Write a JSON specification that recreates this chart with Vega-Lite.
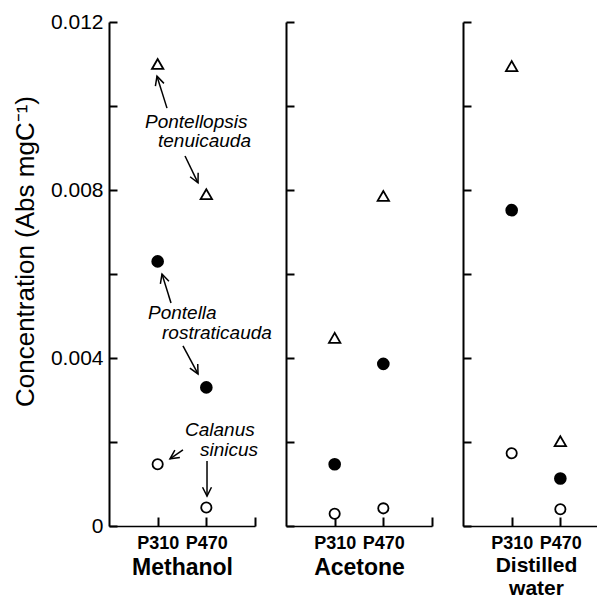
{
  "$schema": "https://vega.github.io/schema/vega-lite/v6.json",
  "padding": {"left": 12, "top": 11, "right": 0, "bottom": 0},
  "bounds": "flush",
  "spacing": 31,
  "config": {
    "view": {"stroke": null},
    "font": "Liberation Sans",
    "axis": {"domainColor": "black", "tickColor": "black", "labelColor": "black", "titleColor": "black", "grid": false, "domainWidth": 2, "tickWidth": 2, "labelFont": "Liberation Sans", "titleFont": "Liberation Sans"}
  },
  "datasets": {
    "pts": [
      {"solvent": "Methanol", "pigment": "P310", "species": "Pontellopsis tenuicauda", "value": 0.0110},
      {"solvent": "Methanol", "pigment": "P470", "species": "Pontellopsis tenuicauda", "value": 0.0079},
      {"solvent": "Methanol", "pigment": "P310", "species": "Pontella rostraticauda", "value": 0.0063},
      {"solvent": "Methanol", "pigment": "P470", "species": "Pontella rostraticauda", "value": 0.0033},
      {"solvent": "Methanol", "pigment": "P310", "species": "Calanus sinicus", "value": 0.00147},
      {"solvent": "Methanol", "pigment": "P470", "species": "Calanus sinicus", "value": 0.00044},
      {"solvent": "Acetone", "pigment": "P310", "species": "Pontellopsis tenuicauda", "value": 0.00448},
      {"solvent": "Acetone", "pigment": "P470", "species": "Pontellopsis tenuicauda", "value": 0.00786},
      {"solvent": "Acetone", "pigment": "P310", "species": "Pontella rostraticauda", "value": 0.00147},
      {"solvent": "Acetone", "pigment": "P470", "species": "Pontella rostraticauda", "value": 0.00386},
      {"solvent": "Acetone", "pigment": "P310", "species": "Calanus sinicus", "value": 0.00029},
      {"solvent": "Acetone", "pigment": "P470", "species": "Calanus sinicus", "value": 0.00042},
      {"solvent": "Distilled water", "pigment": "P310", "species": "Pontellopsis tenuicauda", "value": 0.01095},
      {"solvent": "Distilled water", "pigment": "P470", "species": "Pontellopsis tenuicauda", "value": 0.00202},
      {"solvent": "Distilled water", "pigment": "P310", "species": "Pontella rostraticauda", "value": 0.00752},
      {"solvent": "Distilled water", "pigment": "P470", "species": "Pontella rostraticauda", "value": 0.00113},
      {"solvent": "Distilled water", "pigment": "P310", "species": "Calanus sinicus", "value": 0.00173},
      {"solvent": "Distilled water", "pigment": "P470", "species": "Calanus sinicus", "value": 0.0004}
    ],
    "arrows": [
      {"x1": 1.192, "y1": 0.00995, "x2": 0.986, "y2": 0.01071},
      {"x1": 1.562, "y1": 0.00881, "x2": 1.829, "y2": 0.00817},
      {"x1": 1.274, "y1": 0.00531, "x2": 1.089, "y2": 0.00600},
      {"x1": 1.520, "y1": 0.00429, "x2": 1.829, "y2": 0.00362},
      {"x1": 1.520, "y1": 0.00181, "x2": 1.253, "y2": 0.00160},
      {"x1": 2.014, "y1": 0.00155, "x2": 2.014, "y2": 0.00071}
    ],
    "notes": [
      {"label": "Pontellopsis", "x": 0.740, "y": 0.00962},
      {"label": "tenuicauda", "x": 1.007, "y": 0.00917},
      {"label": "Pontella", "x": 0.801, "y": 0.00507},
      {"label": "rostraticauda", "x": 1.089, "y": 0.00460},
      {"label": "Calanus", "x": 1.562, "y": 0.00228},
      {"label": "sinicus", "x": 1.870, "y": 0.00182}
    ]
  },
  "hconcat": [
    {
      "width": 146,
      "height": 504,
      "layer": [
        {
          "data": {"name": "pts"},
          "transform": [
            {"filter": "datum.solvent === 'Methanol'"},
            {"calculate": "datum.pigment === 'P310' ? 1 : 2", "as": "slot"}
          ],
          "mark": {"type": "point", "strokeWidth": 1.8, "stroke": "black", "opacity": 1},
          "encoding": {
            "x": {"field": "slot", "type": "quantitative", "scale": {"domain": [0, 3], "nice": false, "zero": false},
              "axis": {"values": [1, 2, 3], "tickSize": -9, "labelExpr": "datum.value == 1 ? 'P310' : datum.value == 2 ? 'P470' : ''", "labelFontSize": 18, "labelFontWeight": "bold", "labelPadding": 17, "labelFlush": false, "labelOverlap": false, "title": "Methanol", "titleFontSize": 23, "titleFontWeight": "bold", "titlePadding": 4, "domainWidth": 1.5}},
            "y": {"field": "value", "type": "quantitative", "scale": {"domain": [0, 0.012], "nice": false},
              "axis": {"values": [0, 0.002, 0.004, 0.006, 0.008, 0.01, 0.012], "tickSize": -8, "labelExpr": "round(datum.value*1000) % 4 == 0 ? (datum.value == 0 ? '0' : format(datum.value, '.3f')) : ''", "labelFontSize": 21, "labelPadding": 14, "labelFlush": false, "labelOverlap": false, "title": "Concentration (Abs mgC⁻¹)", "titleFontSize": 26, "titleFontWeight": "normal", "titlePadding": 12, "titleY": 229}},
            "shape": {"field": "species", "type": "nominal", "scale": {"domain": ["Pontellopsis tenuicauda", "Pontella rostraticauda", "Calanus sinicus"], "range": ["triangle-up", "circle", "circle"]}, "legend": null},
            "fill": {"field": "species", "type": "nominal", "scale": {"domain": ["Pontellopsis tenuicauda", "Pontella rostraticauda", "Calanus sinicus"], "range": ["white", "black", "white"]}, "legend": null},
            "size": {"field": "species", "type": "nominal", "scale": {"domain": ["Pontellopsis tenuicauda", "Pontella rostraticauda", "Calanus sinicus"], "range": [130, 105, 105]}, "legend": null}
          }
        },
        {
          "data": {"name": "arrows"},
          "mark": {"type": "rule", "strokeWidth": 1.5, "color": "black"},
          "encoding": {
            "x": {"field": "x1", "type": "quantitative", "scale": {"domain": [0, 3], "nice": false, "zero": false},
              "axis": {"values": [1, 2, 3], "tickSize": -9, "labelExpr": "datum.value == 1 ? 'P310' : datum.value == 2 ? 'P470' : ''", "labelFontSize": 18, "labelFontWeight": "bold", "labelPadding": 17, "labelFlush": false, "labelOverlap": false, "title": "Methanol", "titleFontSize": 23, "titleFontWeight": "bold", "titlePadding": 4, "domainWidth": 1.5}},
            "y": {"field": "y1", "type": "quantitative", "scale": {"domain": [0, 0.012], "nice": false},
              "axis": {"values": [0, 0.002, 0.004, 0.006, 0.008, 0.01, 0.012], "tickSize": -8, "labelExpr": "round(datum.value*1000) % 4 == 0 ? (datum.value == 0 ? '0' : format(datum.value, '.3f')) : ''", "labelFontSize": 21, "labelPadding": 14, "labelFlush": false, "labelOverlap": false, "title": "Concentration (Abs mgC⁻¹)", "titleFontSize": 26, "titleFontWeight": "normal", "titlePadding": 12, "titleY": 229}},
            "x2": {"field": "x2"},
            "y2": {"field": "y2"}
          }
        },
        {
          "data": {"name": "arrows"},
          "transform": [
            {"calculate": "atan2((datum.x2 - datum.x1) * 48.67, (datum.y2 - datum.y1) * 42000) * 180 / PI", "as": "ang"}
          ],
          "mark": {"type": "point", "shape": "M-0.5,1L0,0L0.5,1", "size": 320, "strokeWidth": 1.5, "stroke": "black", "filled": false, "opacity": 1},
          "encoding": {
            "x": {"field": "x2", "type": "quantitative", "scale": {"domain": [0, 3], "nice": false, "zero": false},
              "axis": {"values": [1, 2, 3], "tickSize": -9, "labelExpr": "datum.value == 1 ? 'P310' : datum.value == 2 ? 'P470' : ''", "labelFontSize": 18, "labelFontWeight": "bold", "labelPadding": 17, "labelFlush": false, "labelOverlap": false, "title": "Methanol", "titleFontSize": 23, "titleFontWeight": "bold", "titlePadding": 4, "domainWidth": 1.5}},
            "y": {"field": "y2", "type": "quantitative", "scale": {"domain": [0, 0.012], "nice": false},
              "axis": {"values": [0, 0.002, 0.004, 0.006, 0.008, 0.01, 0.012], "tickSize": -8, "labelExpr": "round(datum.value*1000) % 4 == 0 ? (datum.value == 0 ? '0' : format(datum.value, '.3f')) : ''", "labelFontSize": 21, "labelPadding": 14, "labelFlush": false, "labelOverlap": false, "title": "Concentration (Abs mgC⁻¹)", "titleFontSize": 26, "titleFontWeight": "normal", "titlePadding": 12, "titleY": 229}},
            "angle": {"field": "ang", "type": "quantitative", "scale": null}
          }
        },
        {
          "data": {"name": "notes"},
          "mark": {"type": "text", "align": "left", "baseline": "middle", "fontStyle": "italic", "fontSize": 19, "font": "Liberation Sans", "color": "black"},
          "encoding": {
            "x": {"field": "x", "type": "quantitative", "scale": {"domain": [0, 3], "nice": false, "zero": false},
              "axis": {"values": [1, 2, 3], "tickSize": -9, "labelExpr": "datum.value == 1 ? 'P310' : datum.value == 2 ? 'P470' : ''", "labelFontSize": 18, "labelFontWeight": "bold", "labelPadding": 17, "labelFlush": false, "labelOverlap": false, "title": "Methanol", "titleFontSize": 23, "titleFontWeight": "bold", "titlePadding": 4, "domainWidth": 1.5}},
            "y": {"field": "y", "type": "quantitative", "scale": {"domain": [0, 0.012], "nice": false},
              "axis": {"values": [0, 0.002, 0.004, 0.006, 0.008, 0.01, 0.012], "tickSize": -8, "labelExpr": "round(datum.value*1000) % 4 == 0 ? (datum.value == 0 ? '0' : format(datum.value, '.3f')) : ''", "labelFontSize": 21, "labelPadding": 14, "labelFlush": false, "labelOverlap": false, "title": "Concentration (Abs mgC⁻¹)", "titleFontSize": 26, "titleFontWeight": "normal", "titlePadding": 12, "titleY": 229}},
            "text": {"field": "label"}
          }
        }
      ]
    },
    {
      "width": 146,
      "height": 504,
      "data": {"name": "pts"},
      "transform": [
        {"filter": "datum.solvent === 'Acetone'"},
        {"calculate": "datum.pigment === 'P310' ? 1 : 2", "as": "slot"}
      ],
      "mark": {"type": "point", "strokeWidth": 1.8, "stroke": "black", "opacity": 1},
      "encoding": {
        "x": {"field": "slot", "type": "quantitative", "scale": {"domain": [0, 3], "nice": false, "zero": false},
          "axis": {"values": [1, 2, 3], "tickSize": -9, "labelExpr": "datum.value == 1 ? 'P310' : datum.value == 2 ? 'P470' : ''", "labelFontSize": 18, "labelFontWeight": "bold", "labelPadding": 17, "labelFlush": false, "labelOverlap": false, "title": "Acetone", "titleFontSize": 23, "titleFontWeight": "bold", "titlePadding": 4, "domainWidth": 1.5}},
        "y": {"field": "value", "type": "quantitative", "scale": {"domain": [0, 0.012], "nice": false},
          "axis": {"values": [0, 0.002, 0.004, 0.006, 0.008, 0.01, 0.012], "tickSize": -8, "labels": false, "title": null}},
        "shape": {"field": "species", "type": "nominal", "scale": {"domain": ["Pontellopsis tenuicauda", "Pontella rostraticauda", "Calanus sinicus"], "range": ["triangle-up", "circle", "circle"]}, "legend": null},
        "fill": {"field": "species", "type": "nominal", "scale": {"domain": ["Pontellopsis tenuicauda", "Pontella rostraticauda", "Calanus sinicus"], "range": ["white", "black", "white"]}, "legend": null},
        "size": {"field": "species", "type": "nominal", "scale": {"domain": ["Pontellopsis tenuicauda", "Pontella rostraticauda", "Calanus sinicus"], "range": [130, 105, 105]}, "legend": null}
      }
    },
    {
      "width": 134,
      "height": 504,
      "data": {"name": "pts"},
      "transform": [
        {"filter": "datum.solvent === 'Distilled water'"},
        {"calculate": "datum.pigment === 'P310' ? 1 : 2", "as": "slot"}
      ],
      "mark": {"type": "point", "strokeWidth": 1.8, "stroke": "black", "opacity": 1},
      "encoding": {
        "x": {"field": "slot", "type": "quantitative", "scale": {"domain": [0, 2.753], "nice": false, "zero": false},
          "axis": {"values": [1, 2], "tickSize": -9, "labelExpr": "datum.value == 1 ? 'P310' : datum.value == 2 ? 'P470' : ''", "labelFontSize": 18, "labelFontWeight": "bold", "labelPadding": 17, "labelFlush": false, "labelOverlap": false, "title": ["Distilled", "water"], "titleFontSize": 21, "titleFontWeight": "bold", "titlePadding": 2, "titleLineHeight": 23, "titleX": 73, "domainWidth": 1.5}},
        "y": {"field": "value", "type": "quantitative", "scale": {"domain": [0, 0.012], "nice": false},
          "axis": {"values": [0, 0.002, 0.004, 0.006, 0.008, 0.01, 0.012], "tickSize": -8, "labels": false, "title": null}},
        "shape": {"field": "species", "type": "nominal", "scale": {"domain": ["Pontellopsis tenuicauda", "Pontella rostraticauda", "Calanus sinicus"], "range": ["triangle-up", "circle", "circle"]}, "legend": null},
        "fill": {"field": "species", "type": "nominal", "scale": {"domain": ["Pontellopsis tenuicauda", "Pontella rostraticauda", "Calanus sinicus"], "range": ["white", "black", "white"]}, "legend": null},
        "size": {"field": "species", "type": "nominal", "scale": {"domain": ["Pontellopsis tenuicauda", "Pontella rostraticauda", "Calanus sinicus"], "range": [130, 105, 105]}, "legend": null}
      }
    }
  ]
}
